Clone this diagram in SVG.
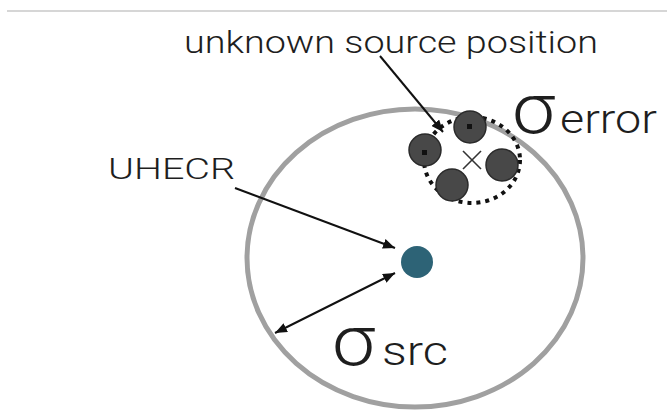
<svg xmlns="http://www.w3.org/2000/svg" width="667" height="414" viewBox="0 0 667 414">
  <style>
    .lbl { font-family: Roboto, "Liberation Sans", Arial, sans-serif; font-weight: 300; fill: #1e1e1e; }
    .conn { stroke: #111; stroke-width: 2; fill: none; }
    .src-dot { fill: #484848; stroke: #2a2a2a; stroke-width: 1.5; }
    .core { fill: #111; }
  </style>
  <defs>
    <marker id="head" viewBox="0 0 12 10" refX="12" refY="5" markerWidth="12" markerHeight="10" markerUnits="userSpaceOnUse" orient="auto-start-reverse">
      <path d="M0,0 L12,5 L0,10 z" fill="#111"/>
    </marker>
  </defs>
  <rect width="667" height="414" fill="#fff"/>

  <!-- header rule -->
  <line x1="7" y1="11" x2="667" y2="11" stroke="#c8c8c8" stroke-width="1.5"/>

  <!-- source region -->
  <g id="region">
    <ellipse cx="415" cy="258" rx="168" ry="149" fill="none" stroke="#a0a0a0" stroke-width="5"/>
  </g>

  <!-- error region with candidate positions -->
  <g id="error-region">
    <ellipse cx="472" cy="160" rx="48" ry="43" fill="none" stroke="#111" stroke-width="4" stroke-dasharray="4 5"/>
    <g id="candidates">
      <circle class="src-dot" cx="470" cy="127" r="16"/>
      <rect class="core" x="467" y="124" width="5" height="5"/>
      <circle class="src-dot" cx="425" cy="150" r="16"/>
      <rect class="core" x="422" y="150" width="5" height="5"/>
      <circle class="src-dot" cx="452" cy="185" r="16"/>
      <circle class="src-dot" cx="502" cy="165" r="16"/>
    </g>
    <g id="true-source" stroke="#333" stroke-width="1.6">
      <line x1="463" y1="151" x2="481" y2="169"/>
      <line x1="481" y1="151" x2="463" y2="169"/>
    </g>
  </g>

  <!-- observed cosmic ray -->
  <g id="uhecr">
    <circle cx="417" cy="262" r="16" fill="#2d6376"/>
  </g>

  <!-- labels -->
  <g id="label-source">
    <text class="lbl" x="184" y="53" font-size="31" textLength="414" lengthAdjust="spacingAndGlyphs">unknown source position</text>
  </g>
  <g id="label-uhecr">
    <text class="lbl" x="108" y="179" font-size="30" textLength="127" lengthAdjust="spacingAndGlyphs">UHECR</text>
  </g>
  <g id="label-error">
    <text class="lbl" x="512" y="133" font-size="70" textLength="43" lengthAdjust="spacingAndGlyphs">σ</text>
    <text class="lbl" x="560" y="133" font-size="40" textLength="97" lengthAdjust="spacingAndGlyphs">error</text>
  </g>
  <g id="label-src">
    <text class="lbl" x="332" y="365" font-size="70" textLength="43" lengthAdjust="spacingAndGlyphs">σ</text>
    <text class="lbl" x="382" y="365" font-size="40" textLength="66" lengthAdjust="spacingAndGlyphs">src</text>
  </g>

  <!-- connectors -->
  <g id="connectors">
    <line class="conn" x1="380" y1="56" x2="443" y2="132" marker-end="url(#head)"/>
    <line class="conn" x1="235" y1="188" x2="395" y2="248" marker-end="url(#head)"/>
    <line class="conn" x1="275" y1="333" x2="395" y2="273" marker-start="url(#head)" marker-end="url(#head)"/>
  </g>
</svg>
